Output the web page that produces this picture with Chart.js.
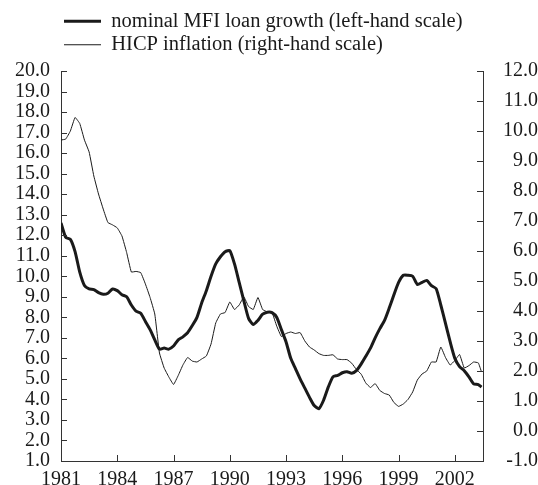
<!DOCTYPE html>
<html>
<head>
<meta charset="utf-8">
<script src="https://cdn.jsdelivr.net/npm/chart.js@4/dist/chart.umd.min.js"></script>
<style>
  html, body { margin: 0; padding: 0; background: #ffffff; }
  #wrap { width: 538px; height: 485px; }
</style>
</head>
<body>
<div id="wrap"><canvas id="c" width="538" height="485"></canvas></div>
<script>
// ---- data ----
const seriesNames = [
  'nominal MFI loan growth (left-hand scale)',
  'HICP inflation (right-hand scale)'
];
const years = [
  1981.00, 1981.25, 1981.50, 1981.75, 1982.00, 1982.25, 1982.50, 1982.75,
  1983.00, 1983.25, 1983.50, 1983.75, 1984.00, 1984.25, 1984.50, 1984.75,
  1985.00, 1985.25, 1985.50, 1985.75, 1986.00, 1986.25, 1986.50, 1986.75,
  1987.00, 1987.25, 1987.50, 1987.75, 1988.00, 1988.25, 1988.50, 1988.75,
  1989.00, 1989.25, 1989.50, 1989.75, 1990.00, 1990.25, 1990.50, 1990.75,
  1991.00, 1991.25, 1991.50, 1991.75, 1992.00, 1992.25, 1992.50, 1992.75,
  1993.00, 1993.25, 1993.50, 1993.75, 1994.00, 1994.25, 1994.50, 1994.75,
  1995.00, 1995.25, 1995.50, 1995.75, 1996.00, 1996.25, 1996.50, 1996.75,
  1997.00, 1997.25, 1997.50, 1997.75, 1998.00, 1998.25, 1998.50, 1998.75,
  1999.00, 1999.25, 1999.50, 1999.75, 2000.00, 2000.25, 2000.50, 2000.75,
  2001.00, 2001.25, 2001.50, 2001.75, 2002.00, 2002.25, 2002.50, 2002.75,
  2003.00, 2003.25, 2003.42
];
const loanGrowth = [
  12.6, 11.9, 11.8, 11.2, 10.2, 9.55, 9.38, 9.35,
  9.2, 9.12, 9.17, 9.38, 9.3, 9.1, 9.0, 8.6,
  8.3, 8.2, 7.8, 7.4, 6.9, 6.45, 6.5, 6.45,
  6.6, 6.9, 7.05, 7.25, 7.6, 8.0, 8.7, 9.3,
  10.0, 10.6, 10.95, 11.2, 11.25, 10.6, 9.7, 8.8,
  7.95, 7.65, 7.85, 8.15, 8.25, 8.23, 8.0, 7.4,
  6.8, 6.0, 5.5, 5.0, 4.55, 4.1, 3.7, 3.55,
  3.96, 4.6, 5.1, 5.17, 5.3, 5.35, 5.27, 5.4,
  5.72, 6.1, 6.5, 7.0, 7.45, 7.85, 8.45, 9.1,
  9.7, 10.05, 10.05, 10.0, 9.6, 9.7, 9.8, 9.54,
  9.4, 8.6, 7.7, 6.8, 6.0, 5.6, 5.4, 5.1,
  4.76, 4.72, 4.6
];
const hicpInflation = [
  9.7, 9.73, 10.0, 10.45, 10.25, 9.7, 9.3, 8.5,
  7.9, 7.4, 6.95, 6.87, 6.77, 6.5, 5.95, 5.3,
  5.32, 5.28, 4.9, 4.45, 3.9, 2.6, 2.1, 1.8,
  1.55, 1.85, 2.2, 2.45, 2.33, 2.3, 2.4, 2.5,
  2.9, 3.6, 3.9, 3.95, 4.3, 4.05, 4.2, 4.47,
  4.15, 4.05, 4.45, 4.05, 3.97, 3.95, 3.5, 3.15,
  3.25, 3.3, 3.25, 3.28, 3.0, 2.8, 2.7, 2.58,
  2.52, 2.52, 2.54, 2.4, 2.38, 2.38, 2.26, 2.05,
  1.9, 1.6, 1.45, 1.58, 1.35, 1.25, 1.2, 0.95,
  0.82, 0.9, 1.05, 1.3, 1.7, 1.9, 2.0, 2.3,
  2.3, 2.8, 2.45, 2.2, 2.35, 2.55, 2.1, 2.18,
  2.3, 2.27, 1.97
];
const xTickYears = [1981, 1984, 1987, 1990, 1993, 1996, 1999, 2002];
const xRange = [1981, 2003.5];
const leftRange = [1, 20];
const rightRange = [-1, 12];

// ---- chart ----
const FONT = "'Liberation Serif', 'Times New Roman', 'DejaVu Serif', serif";
const INK = '#1a1a1a';
const AXIS = '#333333';
const TICK_LEN = 6;
Chart.defaults.font.family = FONT;
Chart.defaults.color = INK;

function pts(vals) { return vals.map((v, i) => ({ x: years[i], y: v })); }

// inward tick marks, positioned by the chart's own scales
const innerTicks = {
  id: 'innerTicks',
  afterDraw(chart) {
    const ctx = chart.ctx;
    const a = chart.chartArea;
    ctx.save();
    ctx.strokeStyle = AXIS;
    ctx.lineWidth = 1;
    ctx.beginPath();
    const sx = chart.scales.x;
    sx.ticks.forEach(t => {
      const px = Math.round(sx.getPixelForValue(t.value)) + 0.5;
      ctx.moveTo(px, a.bottom); ctx.lineTo(px, a.bottom - TICK_LEN);
    });
    const sl = chart.scales.yL;
    sl.ticks.forEach(t => {
      const py = Math.round(sl.getPixelForValue(t.value)) + 0.5;
      ctx.moveTo(a.left, py); ctx.lineTo(a.left + TICK_LEN, py);
    });
    const sr = chart.scales.yR;
    sr.ticks.forEach(t => {
      const py = Math.round(sr.getPixelForValue(t.value)) + 0.5;
      ctx.moveTo(a.right, py); ctx.lineTo(a.right - TICK_LEN, py);
    });
    ctx.stroke();
    ctx.restore();
  }
};

new Chart(document.getElementById('c'), {
  type: 'line',
  data: {
    datasets: [
      { label: seriesNames[0], data: pts(loanGrowth), yAxisID: 'yL',
        borderColor: INK, backgroundColor: INK, borderWidth: 3, pointRadius: 0,
        tension: 0.2, borderJoinStyle: 'round' },
      { label: seriesNames[1], data: pts(hicpInflation), yAxisID: 'yR',
        borderColor: INK, backgroundColor: INK, borderWidth: 1, pointRadius: 0,
        tension: 0.1 }
    ]
  },
  plugins: [innerTicks],
  options: {
    responsive: false,
    animation: false,
    devicePixelRatio: 1,
    layout: { padding: { top: 8, left: 0, right: 0, bottom: 0 } },
    plugins: {
      tooltip: { enabled: false },
      legend: {
        position: 'top',
        align: 'start',
        fullSize: false,
        labels: {
          usePointStyle: true,
          pointStyle: 'line',
          pointStyleWidth: 37,
          padding: 3,
          color: INK,
          font: { family: FONT, size: 20.5 }
        }
      },
      subtitle: {
        display: true,
        text: '',
        position: 'top',
        weight: 500,
        fullSize: false,
        font: { size: 1, lineHeight: 1 },
        padding: { top: 0, bottom: 5 }
      }
    },
    scales: {
      x: {
        type: 'linear',
        min: xRange[0], max: xRange[1],
        afterBuildTicks: (s) => { s.ticks = xTickYears.map(v => ({ value: v })); },
        afterFit: (s) => { s.height = 24; },
        ticks: { autoSkip: false, maxRotation: 0, padding: 7, color: INK,
                 font: { family: FONT, size: 20 }, callback: (v) => String(v) },
        grid: { drawOnChartArea: false, drawTicks: false },
        border: { display: true, color: AXIS, width: 1 }
      },
      yL: {
        type: 'linear', position: 'left',
        min: leftRange[0], max: leftRange[1],
        afterFit: (s) => { s.width = 61; },
        ticks: { stepSize: 1, autoSkip: false, padding: 11, color: INK, font: { family: FONT, size: 20 },
                 callback: (v) => Number(v).toFixed(1) },
        grid: { drawOnChartArea: false, drawTicks: false },
        border: { display: true, color: AXIS, width: 1 }
      },
      yR: {
        type: 'linear', position: 'right',
        min: rightRange[0], max: rightRange[1],
        afterFit: (s) => { s.width = 55; },
        ticks: { stepSize: 1, autoSkip: false, padding: 6, crossAlign: 'far', color: INK,
                 font: { family: FONT, size: 20 },
                 callback: (v) => Number(v).toFixed(1) },
        grid: { drawOnChartArea: false, drawTicks: false },
        border: { display: true, color: AXIS, width: 1 }
      }
    }
  }
});
</script>
</body>
</html>
